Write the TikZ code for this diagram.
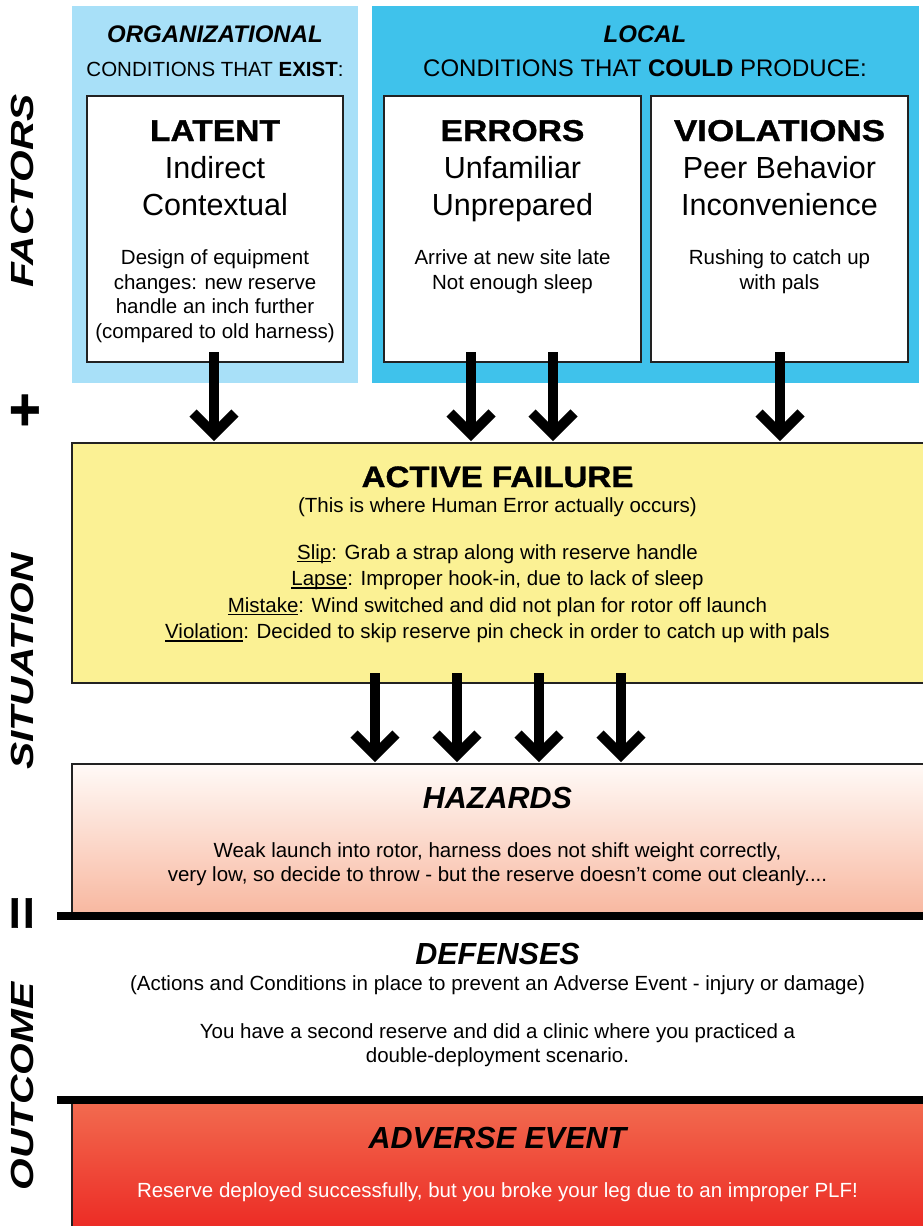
\documentclass[tikz,border=0pt]{standalone}
\usepackage{fontspec}
\setmainfont{Liberation Sans}
\newfontfamily\blackfont[FakeStretch=1.12,FakeBold=1.2]{Liberation Sans Bold}
\usetikzlibrary{calc}
\definecolor{lightpanel}{HTML}{A8E0F8}
\definecolor{darkpanel}{HTML}{3FC2EB}
\definecolor{yellowbox}{HTML}{FBF194}
\definecolor{hazTop}{HTML}{FFFAF7}
\definecolor{hazBot}{HTML}{F8B79F}
\definecolor{advTop}{HTML}{F26C50}
\definecolor{advBot}{HTML}{EC2A24}
\definecolor{boxline}{HTML}{222222}
\newcommand\fsz[2]{\fontsize{#1}{#2}\selectfont}
\newcommand\ulin[1]{\setbox0\hbox{#1}\rlap{\rule[-3pt]{\wd0}{1.2pt}}\box0}
\begin{document}
\begin{tikzpicture}[x=1pt,y=-1pt,
  panel/.style={draw=none, inner sep=0, outer sep=0, anchor=north west},
  wbox/.style={draw=boxline, line width=1.5pt, fill=white, inner sep=0, outer sep=0, anchor=north west},
  band/.style={draw=boxline, line width=1.5pt, inner sep=0, outer sep=0, anchor=north west},
  txt/.style={anchor=base, inner sep=0, outer sep=0},
  fat/.style={line width=10pt, line cap=butt, line join=miter},
  sidelabel/.style={rotate=90, inner sep=0, outer sep=0, font=\fsz{32}{32}\bfseries\itshape},
  rulebar/.style={line width=8pt},
  hdr/.style={txt, font=\fsz{24}{24}\bfseries\itshape},
  cond/.style={txt, font=\fsz{20.5}{20.5}},
  ttl/.style={txt, font=\fsz{30}{30}\blackfont},
  sub/.style={txt, font=\fsz{30.5}{30.5}},
  body/.style={txt, font=\fsz{20.5}{20.5}},
  sect/.style={txt, font=\fsz{30.5}{30.5}\bfseries\itshape},
]
\useasboundingbox (0,0) rectangle (923,1226);
\fill[white] (0,0) rectangle (923,1226);

% ---------- top panels ----------
\node[panel, fill=lightpanel, minimum width=286pt, minimum height=377pt] (org) at (72,6) {};
\node[panel, fill=darkpanel, minimum width=547pt, minimum height=377pt] (loc) at (372,6) {};

\node[hdr] (orgh) at (215,42) {ORGANIZATIONAL};
\node[cond] (orgc) at (215,76) {CONDITIONS THAT \textbf{EXIST}:};
\node[hdr] (loch) at (645,42) {LOCAL};
\node[cond, font=\fsz{24}{24}] (locc) at (645,76) {CONDITIONS THAT \textbf{COULD} PRODUCE:};

\node[wbox, minimum width=256pt, minimum height=266pt] (latent) at (87,96) {};
\node[wbox, minimum width=257pt, minimum height=266pt] (errors) at (384,96) {};
\node[wbox, minimum width=257pt, minimum height=266pt] (viol) at (651,96) {};

% LATENT
\node[ttl] (lat1) at (215,141) {LATENT};
\node[sub] (lat2) at (215,178) {Indirect};
\node[sub] (lat3) at (215,215) {Contextual};
\node[body] (lat4) at (215,264) {Design of equipment};
\node[body] (lat5) at (215,289) {changes: new reserve};
\node[body] (lat6) at (215,313) {handle an inch further};
\node[body] (lat7) at (215,338) {(compared to old harness)};
% ERRORS
\node[ttl] (err1) at (512.5,141) {ERRORS};
\node[sub] (err2) at (512.5,178) {Unfamiliar};
\node[sub] (err3) at (512.5,215) {Unprepared};
\node[body] (err4) at (512.5,264) {Arrive at new site late};
\node[body] (err5) at (512.5,289) {Not enough sleep};
% VIOLATIONS
\node[ttl] (vio1) at (779.5,141) {\scalebox{1.04}[1]{VIOLATIONS}};
\node[sub] (vio2) at (779.5,178) {Peer Behavior};
\node[sub] (vio3) at (779.5,215) {Inconvenience};
\node[body] (vio4) at (779.5,264) {Rushing to catch up};
\node[body] (vio5) at (779.5,289) {with pals};

% ---------- active failure ----------
\node[band, fill=yellowbox, minimum width=860pt, minimum height=240pt] (active) at (72,443) {};
\node[txt, font=\fsz{29.5}{29.5}\blackfont] (act1) at (497.5,487) {ACTIVE FAILURE};
\node[body] (act2) at (497.5,512) {(This is where Human Error actually occurs)};
\node[body] (act3) at (497.5,559) {\ulin{Slip}: Grab a strap along with reserve handle};
\node[body] (act4) at (497.5,585.5) {\ulin{Lapse}: Improper hook-in, due to lack of sleep};
\node[body] (act5) at (497.5,612) {\ulin{Mistake}: Wind switched and did not plan for rotor off launch};
\node[body] (act6) at (497.5,638.5) {\ulin{Violation}: Decided to skip reserve pin check in order to catch up with pals};

% ---------- hazards ----------
\node[band, top color=hazTop, bottom color=hazBot, minimum width=860pt, minimum height=152pt] (haz) at (72,764) {};
\node[sect] (haz1) at (497.5,808) {HAZARDS};
\node[body] (haz2) at (497.5,857) {Weak launch into rotor, harness does not shift weight correctly,};
\node[body] (haz3) at (497.5,881) {very low, so decide to throw - but the reserve doesn’t come out cleanly....};

% ---------- adverse event ----------
\node[band, top color=advTop, bottom color=advBot, minimum width=860pt, minimum height=130pt] (adv) at (72,1100) {};

% ---------- thick rules ----------
\coordinate (r1a) at (57,916);
\coordinate (r1b) at (935,916);
\coordinate (r2a) at (57,1100);
\coordinate (r2b) at (935,1100);
\draw[rulebar] (r1a) -- (r1b);
\draw[rulebar] (r2a) -- (r2b);

% ---------- defenses ----------
\node[sect] (def1) at (497.5,964) {DEFENSES};
\node[body] (def2) at (497.5,990) {(Actions and Conditions in place to prevent an Adverse Event - injury or damage)};
\node[body] (def3) at (497.5,1038) {You have a second reserve and did a clinic where you practiced a};
\node[body] (def4) at (497.5,1062) {double-deployment scenario.};

\node[sect] (adv1) at (497.5,1148) {ADVERSE EVENT};
\node[body, text=white] (adv2) at (497.5,1197) {Reserve deployed successfully, but you broke your leg due to an improper PLF!};

% ---------- arrows ----------
\foreach \x [count=\i] in {214,471,553,780} {
  \coordinate (u\i s) at (\x,352);
  \coordinate (u\i t) at (\x,434);
  \draw[fat] (u\i s) -- (u\i t);
  \draw[fat] ($(u\i t)+(-21,-21)$) -- (u\i t) -- ($(u\i t)+(21,-21)$);
}
\foreach \x [count=\i] in {375,457,539,621} {
  \coordinate (d\i s) at (\x,673);
  \coordinate (d\i t) at (\x,755);
  \draw[fat] (d\i s) -- (d\i t);
  \draw[fat] ($(d\i t)+(-21,-21)$) -- (d\i t) -- ($(d\i t)+(21,-21)$);
}

% ---------- side labels ----------
\node[sidelabel] (factors) at (22,191) {\scalebox{1.27}[1]{FACTORS}};
\node[sidelabel] (situation) at (22,661.5) {\scalebox{1.27}[1]{SITUATION}};
\node[sidelabel] (outcome) at (22,1086.5) {\scalebox{1.27}[1]{OUTCOME}};
\node[rotate=90, inner sep=0, font=\fsz{54}{54}\blackfont] (plus) at (27,410) {+};
\node[rotate=90, inner sep=0, font=\fsz{52}{52}\blackfont] (equals) at (25.5,913) {=};
\end{tikzpicture}
\end{document}
